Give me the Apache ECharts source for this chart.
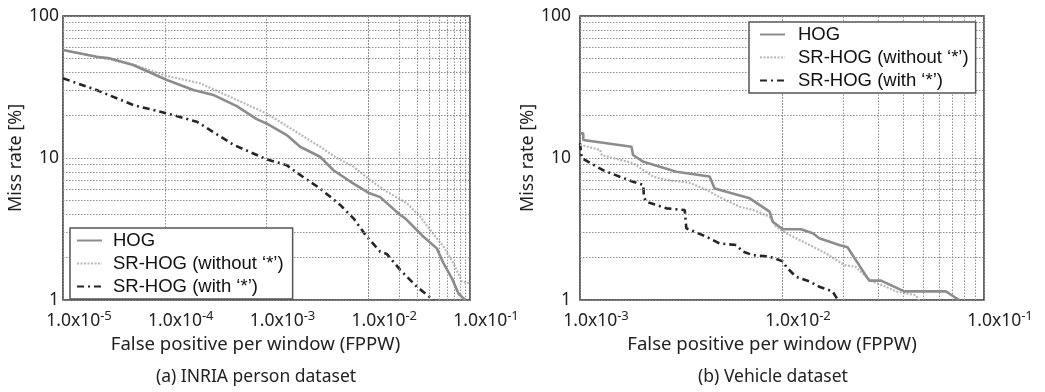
<!DOCTYPE html>
<html>
<head>
<meta charset="utf-8">
<script src="https://cdn.jsdelivr.net/npm/echarts@6/dist/echarts.min.js"></script>
<style>html,body{margin:0;padding:0;background:#fff}#c{width:1045px;height:392px}</style>
</head>
<body>
<div id="c"></div>
<script>
// ---- Data ----
const seriesNames = ['HOG', "SR-HOG (without \u2018*\u2019)", "SR-HOG (with \u2018*\u2019)"];
const subtitles = ['(a) INRIA person dataset', '(b) Vehicle dataset'];
const xTicksA = [1e-5, 1e-4, 1e-3, 1e-2, 1e-1];
const xTicksB = [1e-3, 1e-2, 1e-1];
const yTicks = [1, 10, 100];
const minorMult = [2, 3, 4, 5, 6, 7, 8, 9];

// (a) INRIA
const hogA_fppw = [1e-5, 2.14e-5, 2.9e-5, 4.9e-5, 1.05e-4, 1.91e-4, 3.0e-4, 5.1e-4, 8.0e-4, 1.0e-3, 1.58e-3, 2.14e-3, 3.36e-3, 4.55e-3, 7.16e-3, 1.0e-2, 1.31e-2, 2.06e-2, 2.31e-2, 3.49e-2, 4.72e-2, 5.5e-2, 6.64e-2, 7.7e-2, 8.97e-2];
const hogA_miss = [57.6, 51.7, 50.3, 45.2, 35.4, 30.1, 27.8, 23.2, 18.8, 17.5, 14.5, 12.0, 10.2, 8.2, 6.6, 5.7, 5.3, 3.97, 3.76, 2.79, 2.31, 1.81, 1.42, 1.11, 1.0];
const woA_fppw = [1e-5, 2.14e-5, 4.9e-5, 1.05e-4, 2.22e-4, 4.73e-4, 1.0e-3, 1.84e-3, 3.36e-3, 4.91e-3, 7.16e-3, 1.04e-2, 1.52e-2, 2.4e-2, 3.24e-2, 4.07e-2, 5.5e-2, 6.89e-2, 8.32e-2, 1e-1];
const woA_miss = [57.6, 51.7, 45.5, 37.8, 33.6, 26.3, 20.6, 15.7, 12.0, 10.0, 8.7, 7.0, 5.8, 4.8, 3.86, 3.11, 2.37, 1.81, 1.35, 1.31];
const wA_fppw = [1e-5, 2.14e-5, 4.91e-5, 1.05e-4, 2.07e-4, 4.73e-4, 1.0e-3, 1.58e-3, 2.14e-3, 3.36e-3, 5.3e-3, 7.16e-3, 9.68e-3, 1.31e-2, 1.52e-2, 2.06e-2, 3.0e-2, 4.39e-2];
const wA_miss = [36.4, 30.1, 23.6, 20.6, 18.0, 12.4, 9.8, 8.9, 7.6, 6.1, 4.67, 3.76, 2.79, 2.19, 2.11, 1.63, 1.24, 1.0];

// (b) Vehicle
const hogB_fppw = [1e-3, 1.038e-3, 1.038e-3, 1.8e-3, 1.83e-3, 2.06e-3, 3.0e-3, 4.38e-3, 4.64e-3, 6.92e-3, 8.68e-3, 9.0e-3, 1.01e-2, 1.24e-2, 1.42e-2, 1.53e-2, 1.92e-2, 2.11e-2, 2.7e-2, 3.09e-2, 4.03e-2, 6.47e-2, 7.53e-2];
const hogB_miss = [14.9, 14.9, 13.4, 12.0, 10.5, 9.4, 8.0, 7.4, 6.1, 5.2, 4.19, 3.56, 3.15, 3.15, 2.95, 2.72, 2.44, 2.35, 1.37, 1.37, 1.15, 1.15, 1.0];
const woB_fppw = [1e-3, 1.26e-3, 1.28e-3, 1.83e-3, 2.3e-3, 2.68e-3, 3.49e-3, 4.22e-3, 4.91e-3, 6.17e-3, 7.18e-3, 8.68e-3, 9.35e-3, 1.05e-2, 1.37e-2, 1.65e-2, 2.04e-2, 2.32e-2, 2.6e-2, 2.81e-2, 3.27e-2, 3.66e-2, 4.6e-2, 4.77e-2];
const woB_miss = [12.4, 11.4, 10.5, 9.2, 7.4, 7.0, 6.7, 5.96, 5.3, 4.54, 4.3, 3.86, 3.28, 2.95, 2.44, 2.13, 1.76, 1.71, 1.46, 1.35, 1.24, 1.15, 1.08, 1.0];
const wB_fppw = [1e-3, 1.02e-3, 1.3e-3, 1.83e-3, 2.06e-3, 2.07e-3, 2.13e-3, 2.68e-3, 3.3e-3, 3.36e-3, 4.22e-3, 4.91e-3, 5.94e-3, 6.4e-3, 7.18e-3, 8.68e-3, 1.01e-2, 1.05e-2, 1.17e-2, 1.37e-2, 1.53e-2, 1.78e-2, 1.89e-2];
const wB_miss = [12.7, 10.0, 8.2, 6.8, 6.46, 5.3, 4.92, 4.42, 4.3, 3.2, 2.79, 2.5, 2.44, 2.19, 2.07, 2.02, 1.87, 1.71, 1.46, 1.35, 1.24, 1.15, 1.0];

// ---- Helpers ----
const zip = (xs, ys) => xs.map((x, i) => [x, ys[i]]);
const axisFont = '"Noto Sans", sans-serif';
const legendFont = '"Liberation Sans", Arial, sans-serif';

const styles = [
  { color: '#8c8c8c', width: 2.6, type: 'solid' },
  { color: '#b8b8b8', width: 2.2, type: [2, 1.5] },
  { color: '#262626', width: 2.6, type: [7, 4, 2, 4] }
];

function minorValues(ticks) {
  const out = [];
  for (let i = 0; i < ticks.length - 1; i++) minorMult.forEach(m => out.push(ticks[i] * m));
  return out;
}

const gridLineStyle = { type: [1.5, 1.5], color: '#8e8e8e', width: 1 };

function xAxisFor(gi, ticks, nameShift) {
  return {
    type: 'log', logBase: 10, gridIndex: gi,
    min: ticks[0], max: ticks[ticks.length - 1],
    axisLine: { show: false }, axisTick: { show: false },
    splitLine: { show: true, lineStyle: gridLineStyle },
    axisLabel: {
      margin: 10, color: '#222', padding: [0, 0, 0, 32],
      formatter: v => '{m|1.0x10}{s|' + Math.round(Math.log10(v)) + '}',
      rich: {
        m: { fontSize: 17.5, fontFamily: axisFont, color: '#222', lineHeight: 20, verticalAlign: 'bottom' },
        s: { fontSize: 13, fontFamily: axisFont, color: '#222', lineHeight: 13, verticalAlign: 'top' }
      }
    },
    name: 'False positive per window (FPPW)', nameLocation: 'middle', nameGap: 32,
    nameTextStyle: { fontSize: 18.6, fontFamily: axisFont, color: '#222', padding: [0, nameShift, 0, 0] }
  };
}

function yAxisFor(gi, labelMargin, nameGap) {
  return {
    type: 'log', logBase: 10, gridIndex: gi, min: 1, max: 100,
    axisLine: { show: false }, axisTick: { show: false },
    splitLine: { show: true, lineStyle: gridLineStyle },
    axisLabel: { margin: labelMargin, fontSize: 17.5, fontFamily: axisFont, color: '#222' },
    name: 'Miss rate [%]', nameLocation: 'middle', nameGap: nameGap,
    nameTextStyle: { fontSize: 18, fontFamily: axisFont, color: '#222' }
  };
}

function gridLines(gi, xTicks) {
  const data = minorValues(xTicks).map(v => ({ xAxis: v }))
    .concat(minorValues(yTicks).map(v => ({ yAxis: v })));
  return {
    type: 'line', xAxisIndex: gi, yAxisIndex: gi, data: [], silent: true, z: 1,
    markLine: {
      silent: true, symbol: ['none', 'none'], label: { show: false },
      lineStyle: gridLineStyle,
      emphasis: { disabled: true },
      animation: false, data: data
    }
  };
}

function curve(gi, k, xs, ys) {
  return {
    name: seriesNames[k], type: 'line', xAxisIndex: gi, yAxisIndex: gi,
    data: zip(xs, ys), showSymbol: false, symbol: 'none', z: 3 + (2 - k),
    lineStyle: { color: styles[k].color, width: styles[k].width, type: styles[k].type },
    itemStyle: { color: styles[k].color },
    emphasis: { disabled: true }
  };
}

function legendAt(left, top, padding, textPad) {
  return {
    left: left, top: top, orient: 'vertical', data: seriesNames,
    itemWidth: 25, itemHeight: 14, itemGap: 4,
    padding: padding,
    backgroundColor: '#fff', borderColor: '#555', borderWidth: 1.5, borderRadius: 0,
    selectedMode: false,
    itemStyle: { color: 'transparent', borderColor: 'transparent', borderWidth: 0, opacity: 0 },
    textStyle: { fontSize: 18.5, fontFamily: legendFont, color: '#111', padding: [0, 0, 0, textPad] },
    z: 10
  };
}

const titleStyle = { fontSize: 17.5, fontWeight: 'normal', fontFamily: axisFont, color: '#222' };

const option = {
  animation: false,
  backgroundColor: '#fff',
  title: [
    { text: subtitles[0], left: 251, top: 363, textAlign: 'center', textStyle: titleStyle },
    { text: subtitles[1], left: 768, top: 363, textAlign: 'center', textStyle: titleStyle }
  ],
  legend: [legendAt(70, 228, [3, 9, 3, 6], 6), legendAt(749, 22, [3, 7, 3, 10], 8)],
  grid: [
    { left: 63, right: 575, top: 16, bottom: 92, show: true, borderColor: '#333', borderWidth: 1.5, backgroundColor: 'transparent' },
    { left: 580, right: 61, top: 16, bottom: 92, show: true, borderColor: '#333', borderWidth: 1.5, backgroundColor: 'transparent' }
  ],
  xAxis: [xAxisFor(0, xTicksA, 22), xAxisFor(1, xTicksB, 20)],
  yAxis: [yAxisFor(0, 4, 36), yAxisFor(1, 9, 27)],
  series: [
    gridLines(0, xTicksA), gridLines(1, xTicksB),
    curve(0, 0, hogA_fppw, hogA_miss), curve(0, 1, woA_fppw, woA_miss), curve(0, 2, wA_fppw, wA_miss),
    curve(1, 0, hogB_fppw, hogB_miss), curve(1, 1, woB_fppw, woB_miss), curve(1, 2, wB_fppw, wB_miss)
  ]
};

const chart = echarts.init(document.getElementById('c'), null, { renderer: 'canvas' });
chart.setOption(option);
</script>
</body>
</html>
